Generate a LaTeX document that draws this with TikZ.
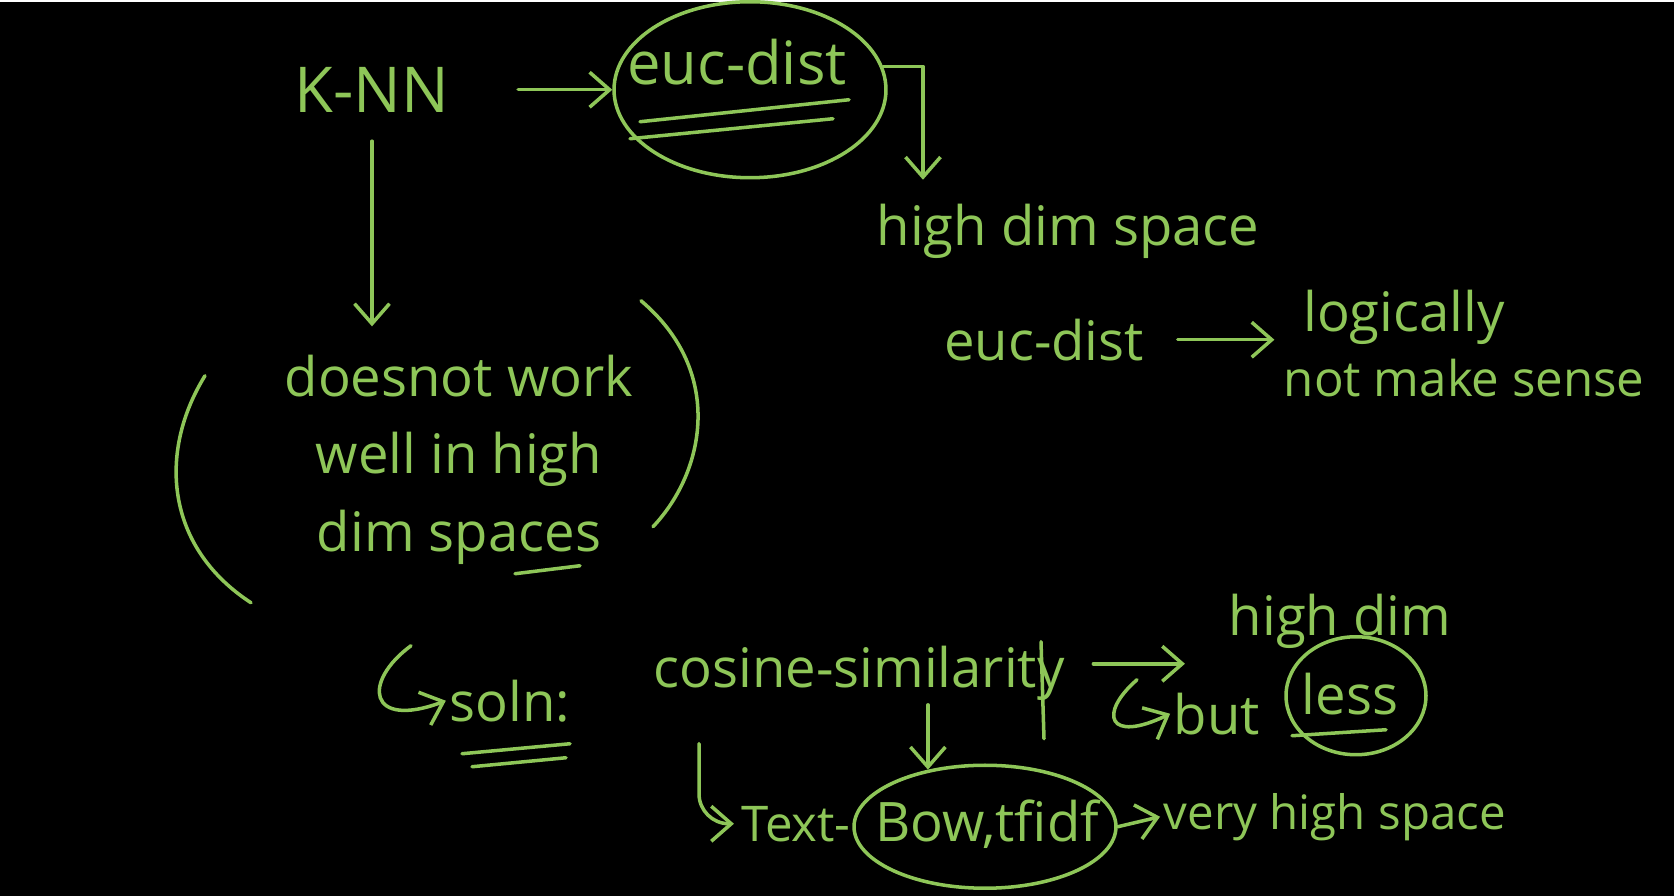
\documentclass[tikz,border=0pt]{standalone}
\usepackage{fontspec}
\setmainfont{Open Sans}
\usetikzlibrary{arrows.meta,positioning,calc,shapes.geometric}
\definecolor{chalk}{RGB}{142,198,88}
\tikzset{
scrawl/.style={text=chalk,font=\fontsize{31}{44}\selectfont,inner sep=2pt},
stroke/.style={draw=chalk,line width=2pt,line cap=round,line join=round},
pointer/.style={stroke,-{Straight Barb[length=4mm,width=7mm]}},
ring/.style={stroke,ellipse,inner sep=0pt}
}
\begin{document}
\begin{tikzpicture}[x=0.02cm,y=-0.02cm]
\fill[black] (0,0) rectangle (1674,894);
%%% K-NN & euc-dist
\node[scrawl,font=\fontsize{36}{44}\selectfont] (knn) at (372,88) {K-NN};
\node[scrawl,font=\fontsize{34}{44}\selectfont] (euc) at (737,60) {euc-dist};
\node[ring,minimum width=5.44cm,minimum height=3.52cm] (eucring) at (750,88) {};
\draw[stroke] (640,120) -- (849,98);
\draw[stroke] (630,137) -- (833,117);
\draw[pointer,shorten <=1.3cm] (knn.east) -- (eucring.west);
\coordinate (drop) at (923,178);
\draw[pointer] (eucring.10) -| (drop);
%%% high dim space
\node[scrawl] (hdspace) at (1068,230) {high dim space};
\node[scrawl] (euc2) at (1044,338) {euc-dist};
\node[scrawl] (logic) at (1404,316) {logically};
\node[scrawl,font=\fontsize{28}{40}\selectfont,anchor=west] (sense) at (1280,376) {not make sense};
\draw[pointer,shorten <=0.6cm,shorten >=0.5cm] (euc2.east) -- (euc2.east -| logic.west);
%%%%% doesnot work
\node[scrawl,align=center] (doesnt) at (459,458) {doesnot work\\well in high\\dim spaces};
\draw[pointer,shorten <=0.5cm,shorten >=0.5cm] (knn.south) -- (knn.south |- doesnt.north);
\draw[stroke] (205,374) .. controls (158,450) and (165,545) .. (251,601);
\draw[stroke] (641,299) .. controls (725,370) and (705,470) .. (653,525);
\draw[stroke] (515,572) -- (580,564);
%%% soln
\node[scrawl] (soln) at (510,699) {soln:};
\coordinate (solnhook) at (411,644);
\draw[pointer] (solnhook) .. controls (362,680) and (368,728) .. (soln.west);
\draw[stroke] (462,752) -- (570,742);
\draw[stroke] (472,765) -- (566,756);
\node[scrawl] (cosine) at (859,672) {cosine-similarity};
\node[scrawl] (hdim) at (1340,620) {high dim};
\draw[pointer,shorten <=0.5cm,shorten >=0.8cm] ([yshift=0.2cm]cosine.east) -- ([yshift=0.2cm]cosine.east -| hdim.west);
\draw[stroke] (1041,640) -- (1044,737);
%%% but less
\node[scrawl] (but) at (1217,712) {but};
\node[scrawl] (less) at (1350,692) {less};
\node[ring,minimum width=2.8cm,minimum height=2.36cm] (lessring) at (1356,694) {};
\draw[stroke] (1292,734) -- (1386,728);
\coordinate (buthook) at (1137,678);
\draw[pointer] (buthook) .. controls (1098,712) and (1108,742) .. (but.west);
%%% Text - Bow,tfidf
\node[scrawl,inner sep=4pt,font=\fontsize{28}{40}\selectfont] (textn) at (796,822) {Text-};
\node[scrawl] (bow) at (987,822) {Bow,tfidf};
\node[ring,minimum width=5.24cm,minimum height=2.46cm] (bowring) at (985,825) {};
\coordinate (texthook) at (699,742);
\draw[pointer,rounded corners=0.6cm] (texthook) |- (textn.west);
\draw[pointer] (cosine.south -| bowring.135) -- (bowring.135);
\node[scrawl,font=\fontsize{27}{40}\selectfont,anchor=west] (vhigh) at (1160,815) {very high space};
\draw[pointer] (bowring.east) -- (vhigh.west);
\end{tikzpicture}
\end{document}
